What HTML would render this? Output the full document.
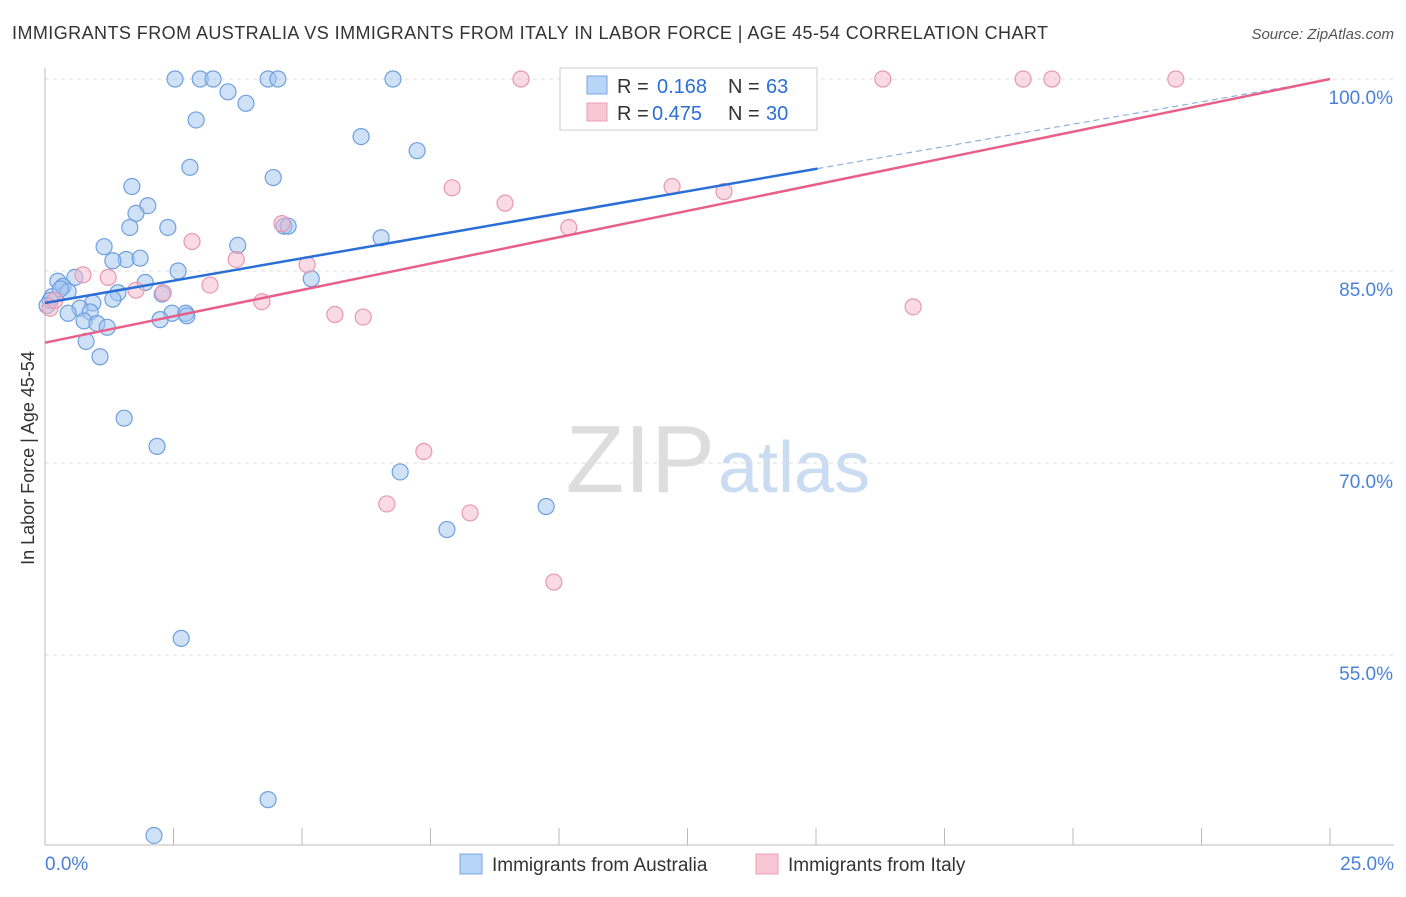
<!DOCTYPE html>
<html><head><meta charset="utf-8"><style>
body{margin:0;background:#fff;font-family:"Liberation Sans",sans-serif}
svg text{font-family:"Liberation Sans",sans-serif}
</style></head><body>
<svg id="c" width="1406" height="892" xmlns="http://www.w3.org/2000/svg">
<text x="12" y="39" font-size="18" fill="#333" textLength="1036">IMMIGRANTS FROM AUSTRALIA VS IMMIGRANTS FROM ITALY IN LABOR FORCE | AGE 45-54 CORRELATION CHART</text>
<text x="1394" y="39" font-size="15" fill="#555" text-anchor="end" font-style="italic">Source: ZipAtlas.com</text>
<text x="34" y="458" font-size="18" fill="#333" text-anchor="middle" transform="rotate(-90 34 458)">In Labor Force | Age 45-54</text>
<text x="715" y="492" font-size="96" fill="#ddd" text-anchor="end" font-family="Liberation Serif">ZIP</text>
<text x="718" y="492" font-size="72" fill="#c9dcf2">atlas</text>
<g id="grid"></g><g id="pts"></g><g id="lines"></g>
<g>
<rect x="560" y="68" width="257" height="62" fill="#fff" stroke="#ccc"/>
<rect x="587" y="76" width="20" height="18" fill="#b8d4f6" stroke="#7aa6e0"/>
<rect x="587" y="103" width="20" height="18" fill="#f8c6d4" stroke="#eba0b6"/>
<text x="617" y="93" font-size="20" fill="#333">R =</text>
<text x="657" y="93" font-size="20" fill="#2a6fd6">0.168</text>
<text x="728" y="93" font-size="20" fill="#333">N =</text>
<text x="766" y="93" font-size="20" fill="#2a6fd6">63</text>
<text x="617" y="120" font-size="20" fill="#333">R =</text>
<text x="652" y="120" font-size="20" fill="#2a6fd6">0.475</text>
<text x="728" y="120" font-size="20" fill="#333">N =</text>
<text x="766" y="120" font-size="20" fill="#2a6fd6">30</text>
</g>
<g>
<rect x="460" y="854" width="22" height="20" fill="#b8d4f6" stroke="#7aa6e0"/>
<text x="492" y="871" font-size="19" fill="#333">Immigrants from Australia</text>
<rect x="756" y="854" width="22" height="20" fill="#f8c6d4" stroke="#eba0b6"/>
<text x="788" y="871" font-size="19" fill="#333">Immigrants from Italy</text>
</g>
</svg>
<script>
const yTicks=[100,85,70,55];
const yTickLabels=["100.0%","85.0%","70.0%","55.0%"];
const xTickCount=10;
const ausX=[2.53,3.02,3.27,4.34,4.53,6.77,12.16,13.72,3.56,3.91,2.94,6.15,7.24,2.82,4.44,1.69,2.00,1.77,1.65,2.39,4.65,4.73,6.54,1.15,3.75,1.58,1.85,1.32,2.59,0.58,0.25,1.95,5.18,0.35,0.45,1.42,0.14,2.28,1.32,0.93,0.68,0.45,0.88,2.47,2.74,2.76,2.24,0.76,1.01,1.21,0.80,1.07,1.54,2.18,6.91,7.82,9.75,2.65,4.34,2.12,0.10,0.04,0.30];
const ausY=[100,100,100,100,100,100,100,100,99.0,98.1,96.8,95.5,94.4,93.1,92.3,91.6,90.1,89.5,88.4,88.4,88.5,88.5,87.6,86.9,87.0,85.9,86.0,85.8,85.0,84.5,84.2,84.1,84.4,83.8,83.4,83.3,83.0,83.2,82.8,82.5,82.1,81.7,81.8,81.7,81.7,81.5,81.2,81.1,80.9,80.6,79.5,78.3,73.5,71.3,69.3,64.8,66.6,56.3,43.7,40.9,82.7,82.3,83.6];
const itaX=[9.26,16.30,19.03,19.59,22.00,13.85,7.92,8.95,12.20,13.21,10.19,2.86,4.61,3.72,5.10,1.23,0.74,3.21,1.77,2.30,4.22,5.64,6.19,16.89,7.37,6.65,8.27,9.90,0.10,0.19];
const itaY=[100,100,100,100,100,97.3,91.5,90.3,91.6,91.2,88.4,87.3,88.7,85.9,85.5,84.5,84.7,83.9,83.5,83.3,82.6,81.6,81.4,82.2,70.9,66.8,66.1,60.7,82.1,82.7];
const ausLine=[82.5,93.0,15.03];
const itaLine=[79.4,100];
const NS="http://www.w3.org/2000/svg";
const X=v=>45+v/25*1285, Y=v=>79+(100-v)*12.8;
function mk(t,a,p){const e=document.createElementNS(NS,t);for(const k in a)e.setAttribute(k,a[k]);p.appendChild(e);return e;}
const g=document.getElementById('grid');
yTicks.forEach((t,i)=>{const l=mk('line',{x1:45,x2:1394,y1:Y(t),y2:Y(t),stroke:'#ddd','stroke-dasharray':'4,4'},g);


const tx=mk('text',{x:1393,y:Y(t)+25,'font-size':19,fill:'#4a80d8','text-anchor':'end'},g);tx.textContent=yTickLabels[i];

});
mk('line',{x1:45,x2:45,y1:68,y2:845,stroke:'#bbb'},g);
mk('line',{x1:45,x2:1394,y1:845,y2:845,stroke:'#bbb'},g);
for(let i=0;i<=xTickCount;i++){const x=X(i*25/xTickCount);mk('line',{x1:x,x2:x,y1:828,y2:845,stroke:'#bbb'},g);}
const x0=mk('text',{x:45,y:870,'font-size':19,fill:'#4a80d8'},g);x0.textContent='0.0%';


const x1=mk('text',{x:1394,y:870,'font-size':19,fill:'#4a80d8','text-anchor':'end'},g);x1.textContent='25.0%';


const p=document.getElementById('pts');
ausX.forEach((v,i)=>{const c=mk('circle',{cx:X(v),cy:Y(ausY[i]),r:8,fill:'rgba(160,196,240,0.5)',stroke:'#6f9fe0','stroke-width':1.2},p);

});
itaX.forEach((v,i)=>{const c=mk('circle',{cx:X(v),cy:Y(itaY[i]),r:8,fill:'rgba(245,184,204,0.5)',stroke:'#e897b0','stroke-width':1.2},p);

});
const L=document.getElementById('lines');
const slope=(ausLine[1]-ausLine[0])/ausLine[2];
const b1=mk('line',{x1:X(0),y1:Y(ausLine[0]),x2:X(ausLine[2]),y2:Y(ausLine[1]),stroke:'#2a6fd6','stroke-width':2.5},L);


const b2=mk('line',{x1:X(ausLine[2]),y1:Y(ausLine[1]),x2:X(25),y2:Y(ausLine[0]+slope*25),stroke:'#8fb0e0','stroke-width':1.2,'stroke-dasharray':'6,4'},L);


const pl=mk('line',{x1:X(0),y1:Y(itaLine[0]),x2:X(25),y2:Y(itaLine[1]),stroke:'#e8608a','stroke-width':2.5},L);


</script>
</body></html>
